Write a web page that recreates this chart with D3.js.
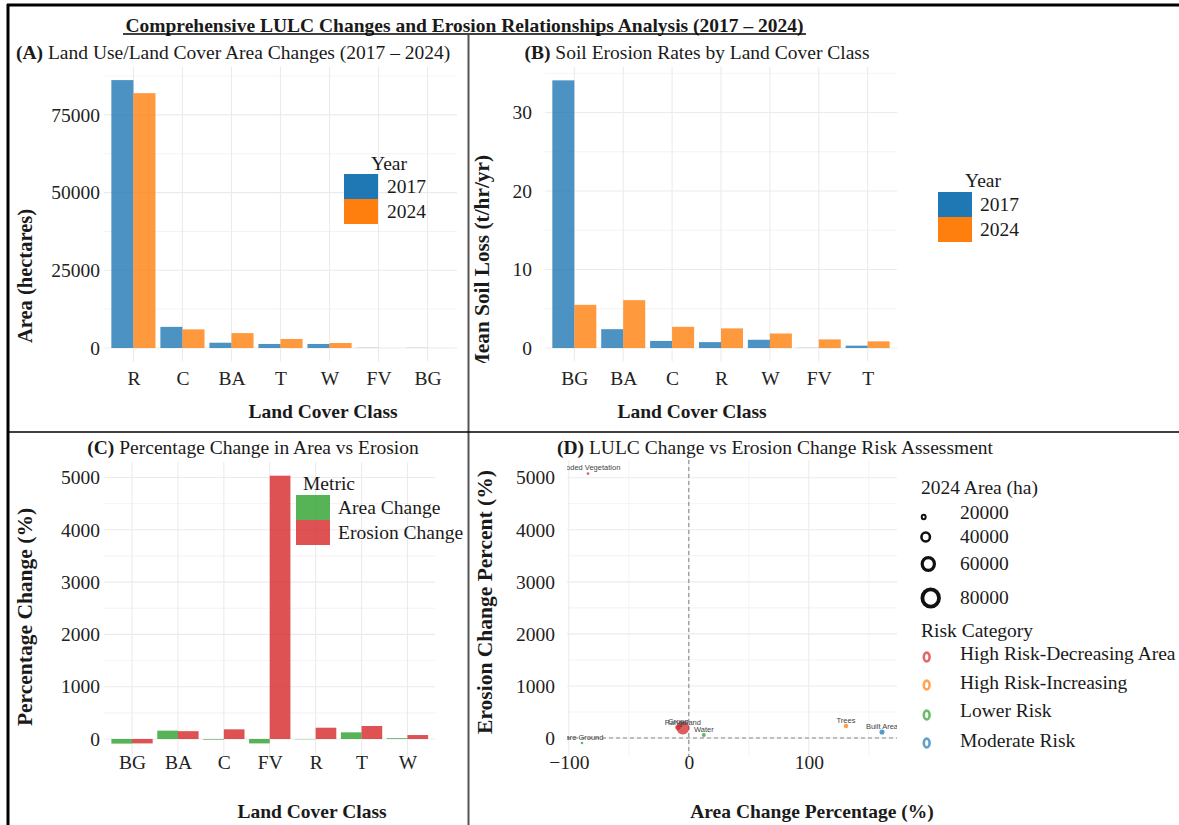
<!DOCTYPE html>
<html><head><meta charset="utf-8">
<script src="https://cdn.jsdelivr.net/npm/d3@7"></script>
<style>
body{margin:0;background:#fff}
svg text{font-family:"Liberation Serif","Times New Roman",serif;fill:#1a1a1a}
</style></head><body>
<svg id="c" width="1179" height="825"></svg>
<script>
// ---------- DATA ----------
const yearKeys = ["2017", "2024"];
const yearColors = ["#1f77b4", "#ff7f0e"];

const classesA = ["R", "C", "BA", "T", "W", "FV", "BG"];
const area2017 = [86200, 6800, 1700, 1300, 1300, 60, 40];
const area2024 = [82000, 6000, 4800, 2900, 1600, 10, 4];
const ticksA = [0, 25000, 50000, 75000];

const classesB = ["BG", "BA", "C", "R", "W", "FV", "T"];
const erosion2017 = [34.1, 2.4, 0.9, 0.75, 1.05, 0.02, 0.3];
const erosion2024 = [5.5, 6.1, 2.7, 2.5, 1.85, 1.1, 0.85];
const ticksB = [0, 10, 20, 30];

const classesC = ["BG", "BA", "C", "FV", "R", "T", "W"];
const metricKeys = ["Area Change", "Erosion Change"];
const metricColors = ["#2ca02c", "#d62728"];
const areaChangePct = [-88, 160, -12, -84, -5, 128, 15];
const erosionChangePct = [-84, 150, 185, 5035, 216, 249, 76];
const ticksC = [0, 1000, 2000, 3000, 4000, 5000];

const pointNames = ["Flooded Vegetation", "Crops", "Rangeland", "Water", "Trees", "Built Area", "Bare Ground"];
const pointAreaChange = [-84, -9, -5, 12.5, 131, 161, -89];
const pointErosionChange = [5080, 205, 192, 58, 230, 115, -96];
const pointArea2024 = [10, 6000, 82000, 1600, 2900, 4800, 4];
const pointRisk = ["High Risk-Decreasing Area", "High Risk-Decreasing Area", "High Risk-Decreasing Area",
  "Lower Risk", "High Risk-Increasing", "Moderate Risk", "Lower Risk"];
const riskCategories = ["High Risk-Decreasing Area", "High Risk-Increasing", "Lower Risk", "Moderate Risk"];
const riskColors = ["#d62728", "#ff7f0e", "#2ca02c", "#1f77b4"];
const sizeBreaks = [20000, 40000, 60000, 80000];
const ticksDx = [-100, 0, 100];
const ticksDy = [0, 1000, 2000, 3000, 4000, 5000];

// ---------- HELPERS ----------
const svg = d3.select("#c");
const FS = 19.5;
const GRID = "#ebebeb";

function text(g, x, y, s, o = {}) {
  const t = g.append("text").attr("x", x).attr("y", y).attr("dy", "0.35em")
    .attr("text-anchor", o.anchor || "start")
    .style("font-size", (o.size || FS) + "px")
    .style("font-weight", o.bold ? "bold" : "normal");
  if (o.fill) t.style("fill", o.fill);
  t.text(s);
  return t;
}
function rotText(g, x, y, s, o = {}) {
  const t = g.append("text").attr("transform", `translate(${x},${y}) rotate(-90)`)
    .attr("dy", "0.35em").attr("text-anchor", o.anchor || "middle")
    .style("font-size", (o.size || FS) + "px").style("font-weight", "bold").text(s);
  return t;
}
function hGrid(g, ys, yScale, x0, x1, w) {
  ys.forEach(v => g.append("line").attr("x1", x0).attr("x2", x1)
    .attr("y1", yScale(v)).attr("y2", yScale(v)).attr("stroke", GRID).attr("stroke-width", w));
}
function vGrid(g, xs, y0, y1, w) {
  xs.forEach(px => g.append("line").attr("x1", px).attr("x2", px)
    .attr("y1", y0).attr("y2", y1).attr("stroke", GRID).attr("stroke-width", w));
}
function leftAxis(x, yScale, ticks) {
  const g = svg.append("g").attr("transform", `translate(${x},0)`)
    .call(d3.axisLeft(yScale).tickValues(ticks).tickFormat(d3.format("d")).tickSize(0).tickPadding(0));
  g.select(".domain").remove();
  g.attr("font-family", null).attr("font-size", null);
  g.selectAll("text").style("font-size", FS + "px").style("fill", "#222");
  return g;
}
function bottomAxis(y, xScale, ticks, fmt) {
  const ax = d3.axisBottom(xScale).tickSize(0).tickPadding(0);
  if (ticks) ax.tickValues(ticks);
  if (fmt) ax.tickFormat(fmt);
  const g = svg.append("g").attr("transform", `translate(0,${y})`).call(ax);
  g.select(".domain").remove();
  g.attr("font-family", null).attr("font-size", null);
  g.selectAll("text").attr("y", 0).attr("dy", "0.35em").style("font-size", FS + "px").style("fill", "#222");
  return g;
}
function panelTitle(x, y, letter, rest, anchor) {
  const t = svg.append("text").attr("x", x).attr("y", y).attr("dy", "0.35em")
    .attr("text-anchor", anchor).style("font-size", FS + "px");
  t.append("tspan").style("font-weight", "bold").text(letter);
  t.append("tspan").text(rest);
}
function swatchLegend(title, tx, ty, keyX, keyY, labX, keys, colors, op) {
  text(svg, tx, ty, title, { anchor: "middle" });
  keys.forEach((k, i) => {
    svg.append("rect").attr("x", keyX).attr("y", keyY + i * 25).attr("width", 34).attr("height", 25)
      .attr("fill", colors[i]).attr("fill-opacity", op);
    text(svg, labX, keyY + i * 25 + 12.5, k);
  });
}

// ---------- FRAME ----------
svg.append("line").attr("x1", 7).attr("x2", 1179).attr("y1", 5).attr("y2", 5).attr("stroke", "#000").attr("stroke-width", 3);
svg.append("line").attr("x1", 8).attr("x2", 8).attr("y1", 4).attr("y2", 825).attr("stroke", "#000").attr("stroke-width", 3);
svg.append("line").attr("x1", 468.5).attr("x2", 468.5).attr("y1", 35).attr("y2", 825).attr("stroke", "#555").attr("stroke-width", 2);
svg.append("line").attr("x1", 8).attr("x2", 1179).attr("y1", 432).attr("y2", 432).attr("stroke", "#000").attr("stroke-width", 1.5);

text(svg, 464.5, 25, "Comprehensive LULC Changes and Erosion Relationships Analysis (2017 – 2024)", { anchor: "middle", bold: true });
svg.append("line").attr("x1", 123).attr("x2", 806).attr("y1", 34).attr("y2", 34).attr("stroke", "#000").attr("stroke-width", 1.5);

// ---------- PANEL A ----------
{
  const x = d3.scalePoint().domain(classesA).range([104, 457]).padding(0.6);
  const y = d3.scaleLinear().domain([-4310, 90510]).range([361.4, 66.7]);
  const g = svg.append("g");
  hGrid(g, [12500, 37500, 62500, 87500], y, 104, 457, 0.6);
  hGrid(g, ticksA, y, 104, 457, 1.1);
  vGrid(g, classesA.map(x), 66.7, 361.4, 1.1);
  const bw = x.step() * 0.45;
  const series = [area2017, area2024];
  series.forEach((vals, s) => {
    g.selectAll(null).data(classesA).enter().append("rect")
      .attr("x", d => x(d) - bw + s * bw).attr("width", bw)
      .attr("y", (d, i) => y(vals[i])).attr("height", (d, i) => y(0) - y(vals[i]))
      .attr("fill", yearColors[s]).attr("fill-opacity", 0.8);
  });
  leftAxis(100, y, ticksA);
  bottomAxis(378, x);
  panelTitle(16, 52, "(A)", " Land Use/Land Cover Area Changes (2017 – 2024)", "start");
  rotText(svg, 25, 276, "Area (hectares)", { size: 20.5 });
  text(svg, 323, 411, "Land Cover Class", { anchor: "middle", bold: true });
  swatchLegend("Year", 389, 163, 344, 174, 387, yearKeys, yearColors, 1);
}

// ---------- PANEL B ----------
{
  const x = d3.scalePoint().domain(classesB).range([545, 897]).padding(0.6);
  const y = d3.scaleLinear().domain([-1.705, 35.8]).range([361.4, 67]);
  const g = svg.append("g");
  hGrid(g, [5, 15, 25, 35], y, 545, 897, 0.6);
  hGrid(g, ticksB, y, 545, 897, 1.1);
  vGrid(g, classesB.map(x), 67, 361.4, 1.1);
  const bw = x.step() * 0.45;
  [erosion2017, erosion2024].forEach((vals, s) => {
    g.selectAll(null).data(classesB).enter().append("rect")
      .attr("x", d => x(d) - bw + s * bw).attr("width", bw)
      .attr("y", (d, i) => y(vals[i])).attr("height", (d, i) => y(0) - y(vals[i]))
      .attr("fill", yearColors[s]).attr("fill-opacity", 0.8);
  });
  leftAxis(532, y, ticksB);
  bottomAxis(378, x);
  panelTitle(697, 52, "(B)", " Soil Erosion Rates by Land Cover Class", "middle");
  svg.append("clipPath").attr("id", "clipB").append("rect").attr("x", 470).attr("y", 60).attr("width", 40).attr("height", 303);
  const gt = svg.append("g").attr("clip-path", "url(#clipB)");
  rotText(gt, 482, 155, "Mean Soil Loss (t/hr/yr)", { anchor: "end", size: 21.3 });
  text(svg, 692, 411, "Land Cover Class", { anchor: "middle", bold: true });
  swatchLegend("Year", 983, 180, 938, 192, 980, yearKeys, yearColors, 1);
}

// ---------- PANEL C ----------
{
  const x = d3.scalePoint().domain(classesC).range([104.5, 435]).padding(0.6);
  const y = d3.scaleLinear().domain([-344, 5291]).range([757, 462.3]);
  const g = svg.append("g");
  hGrid(g, [500, 1500, 2500, 3500, 4500], y, 104.5, 435, 0.6);
  hGrid(g, ticksC, y, 104.5, 435, 1.1);
  vGrid(g, classesC.map(x), 462.3, 757, 1.1);
  const bw = x.step() * 0.45;
  [areaChangePct, erosionChangePct].forEach((vals, s) => {
    g.selectAll(null).data(classesC).enter().append("rect")
      .attr("x", d => x(d) - bw + s * bw).attr("width", bw)
      .attr("y", (d, i) => Math.min(y(vals[i]), y(0))).attr("height", (d, i) => Math.abs(y(0) - y(vals[i])))
      .attr("fill", metricColors[s]).attr("fill-opacity", 0.8);
  });
  leftAxis(100, y, ticksC);
  bottomAxis(762, x);
  panelTitle(253, 447, "(C)", " Percentage Change in Area vs Erosion", "middle");
  rotText(svg, 24, 617, "Percentage Change (%)", { size: 21.5 });
  text(svg, 312, 811, "Land Cover Class", { anchor: "middle", bold: true });
  swatchLegend("Metric", 329, 483, 296, 495, 338, metricKeys, metricColors, 0.8);
}

// ---------- PANEL D ----------
{
  const x0 = 567, x1 = 897, y0 = 460, y1 = 756.5;
  const x = d3.scaleLinear().domain([-101.5, 173.5]).range([x0, x1]);
  const y = d3.scaleLinear().domain([-355, 5340]).range([y1, y0]);
  const r = d3.scaleSqrt().domain([0, 82000]).range([1.3, 6.5]);
  const col = d3.scaleOrdinal().domain(riskCategories).range(riskColors);
  const g = svg.append("g");
  hGrid(g, [500, 1500, 2500, 3500, 4500], y, x0, x1, 0.6);
  hGrid(g, ticksDy, y, x0, x1, 1.1);
  vGrid(g, [-50, 50, 150].map(x), y0, y1, 0.6);
  vGrid(g, ticksDx.map(x), y0, y1, 1.1);
  g.append("line").attr("x1", x0).attr("x2", x1).attr("y1", y(0)).attr("y2", y(0))
    .attr("stroke", "#888").attr("stroke-width", 1.1).attr("stroke-dasharray", "4,3");
  g.append("line").attr("x1", x(0)).attr("x2", x(0)).attr("y1", y0).attr("y2", y1)
    .attr("stroke", "#888").attr("stroke-width", 1.1).attr("stroke-dasharray", "4,3");
  svg.append("clipPath").attr("id", "clipD").append("rect").attr("x", x0).attr("y", y0 - 10).attr("width", x1 - x0).attr("height", y1 - y0 + 10);
  const gp = svg.append("g").attr("clip-path", "url(#clipD)");
  const idx = d3.range(pointNames.length);
  gp.selectAll("circle").data(idx).enter().append("circle")
    .attr("cx", i => x(pointAreaChange[i])).attr("cy", i => y(pointErosionChange[i]))
    .attr("r", i => r(pointArea2024[i])).attr("fill", i => col(pointRisk[i])).attr("fill-opacity", 0.75);
  gp.selectAll("text.lbl").data(idx).enter().append("text").attr("class", "lbl")
    .attr("x", i => x(pointAreaChange[i])).attr("y", i => y(pointErosionChange[i]) - 6)
    .attr("dy", "0.35em").attr("text-anchor", "middle")
    .style("font-family", "'Liberation Sans', Arial, sans-serif").style("font-size", "7.5px").style("fill", "#444")
    .text(i => pointNames[i]);
  leftAxis(555, y, ticksDy);
  bottomAxis(762, x, ticksDx, d3.format("d"));
  panelTitle(775, 447, "(D)", " LULC Change vs Erosion Change Risk Assessment", "middle");
  rotText(svg, 484, 602, "Erosion Change Percent (%)", { size: 21.5 });
  text(svg, 812, 811, "Area Change Percentage (%)", { anchor: "middle", bold: true });
  // size legend
  text(svg, 921, 487, "2024 Area (ha)");
  const ringD = [6.5, 11.7, 16, 21];
  const ringX = [923.7, 925.7, 928.3, 930.7];
  const ringY = [517, 537, 564, 598];
  const ringW = [2, 2.6, 3.2, 3.8];
  const labY = [512, 536, 563, 597];
  sizeBreaks.forEach((b, i) => {
    svg.append("ellipse").attr("cx", ringX[i]).attr("cy", ringY[i])
      .attr("rx", (ringD[i] - ringW[i]) / 2 - 0.3).attr("ry", (ringD[i] - ringW[i]) / 2)
      .attr("fill", "none").attr("stroke", "#111").attr("stroke-width", ringW[i]);
    text(svg, 960, labY[i], String(b));
  });
  text(svg, 921, 630, "Risk Category");
  const rY = [657, 685, 715, 743];
  const rLab = [653, 682, 710, 740];
  riskCategories.forEach((c, i) => {
    svg.append("ellipse").attr("cx", 926.7).attr("cy", rY[i]).attr("rx", 2.9).attr("ry", 4.4)
      .attr("fill", "none").attr("stroke", riskColors[i]).attr("stroke-opacity", 0.7).attr("stroke-width", 2.6);
    text(svg, 960, rLab[i], c);
  });
}
</script>
</body></html>
